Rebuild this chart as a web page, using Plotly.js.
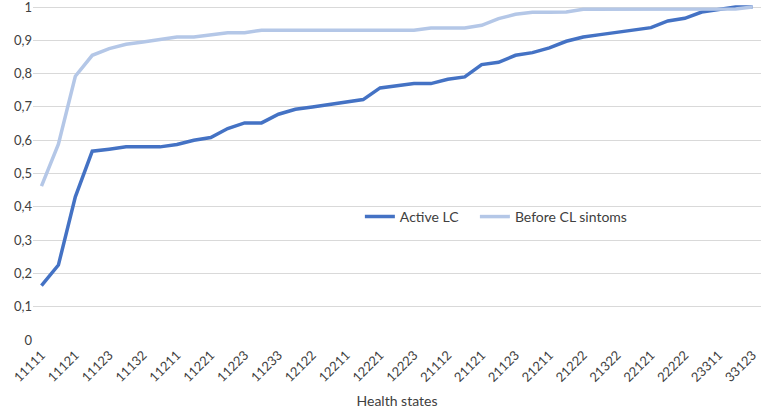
<!DOCTYPE html>
<html>
<head>
<meta charset="utf-8">
<script src="https://cdn.plot.ly/plotly-3.0.1.min.js"></script>
<style>
  html, body { margin: 0; padding: 0; background: #fff; }
  #chart { width: 763px; height: 409px; }
</style>
</head>
<body>
<div id="chart"></div>
<script>
// health states shown on the axis (every second category is labelled)
let tickLabels = ["11111", "11121", "11123", "11132", "11211", "11221", "11223", "11233",
    "12122", "12211", "12221", "12223", "21112", "21121", "21123", "21211",
    "21222", "21322", "22121", "22222", "23311", "33123"]

let yTicks = [0, 0.1, 0.2, 0.3, 0.4, 0.5, 0.6, 0.7, 0.8, 0.9, 1]
let yTickText = ["0", "0,1", "0,2", "0,3", "0,4", "0,5", "0,6", "0,7", "0,8", "0,9", "1"]

let activeLC = [0.163, 0.225, 0.43, 0.567, 0.573, 0.58, 0.58, 0.58, 0.587, 0.60,
    0.608, 0.635, 0.652, 0.652, 0.678, 0.693, 0.70, 0.708, 0.715, 0.722,
    0.757, 0.763, 0.77, 0.77, 0.783, 0.79, 0.827, 0.834, 0.855, 0.863,
    0.877, 0.897, 0.91, 0.917, 0.924, 0.931, 0.938, 0.958, 0.966, 0.985,
    0.992, 1.0, 1.0]

let beforeCL = [0.462, 0.588, 0.792, 0.855, 0.875, 0.888, 0.895, 0.902, 0.91, 0.91,
    0.917, 0.923, 0.923, 0.93, 0.93, 0.93, 0.93, 0.93, 0.93, 0.93,
    0.93, 0.93, 0.93, 0.937, 0.937, 0.937, 0.945, 0.965, 0.978, 0.984,
    0.984, 0.985, 0.993, 0.993, 0.993, 0.993, 0.993, 0.993, 0.993, 0.993,
    0.993, 0.994, 1.0]

let idx = activeLC.map((v, i) => i)
let tickIdx = tickLabels.map((t, i) => i * 2)

let data = [
    {
        x: idx,
        y: activeLC,
        name: "Active LC",
        mode: "lines",
        type: "scatter",
        legend: "legend",
        line: { color: "#4472C4", width: 3.5 }
    },
    {
        x: idx,
        y: beforeCL,
        name: "Before CL sintoms",
        mode: "lines",
        type: "scatter",
        legend: "legend2",
        line: { color: "#B4C7E7", width: 3.5 }
    }
]

let legendStyle = {
    x: 0.449,
    y: 0.364,
    xanchor: "left",
    yanchor: "middle",
    bgcolor: "rgba(0,0,0,0)",
    font: { size: 14, color: "#404040" },
    itemwidth: 30
}

let layout = {
    width: 763,
    height: 409,
    margin: { l: 33, r: 2, t: 2, b: 69 },
    paper_bgcolor: "#fff",
    plot_bgcolor: "#fff",
    font: { family: "Lato, 'Open Sans', sans-serif", size: 13, color: "#404040" },
    showlegend: true,
    legend: legendStyle,
    legend2: Object.assign({}, legendStyle, { x: 0.607 }),
    xaxis: {
        range: [-0.5, 42.5],
        tickmode: "array",
        tickvals: tickIdx,
        ticktext: tickLabels,
        tickangle: -45,
        ticklabelstandoff: 4,
        showgrid: false,
        zeroline: false,
        showline: false,
        ticks: "",
        tickfont: { size: 13 },
        title: { text: "Health states", font: { size: 14, color: "#404040" }, standoff: 14 }
    },
    yaxis: {
        range: [0, 1.015],
        tickmode: "array",
        tickvals: yTicks,
        ticktext: yTickText,
        ticklabeloverflow: "allow",
        gridcolor: "#d9d9d9",
        gridwidth: 1,
        zeroline: false,
        showline: false,
        ticks: "",
        tickfont: { size: 13 }
    }
}

Plotly.newPlot("chart", data, layout, { displayModeBar: false })
</script>
</body>
</html>
